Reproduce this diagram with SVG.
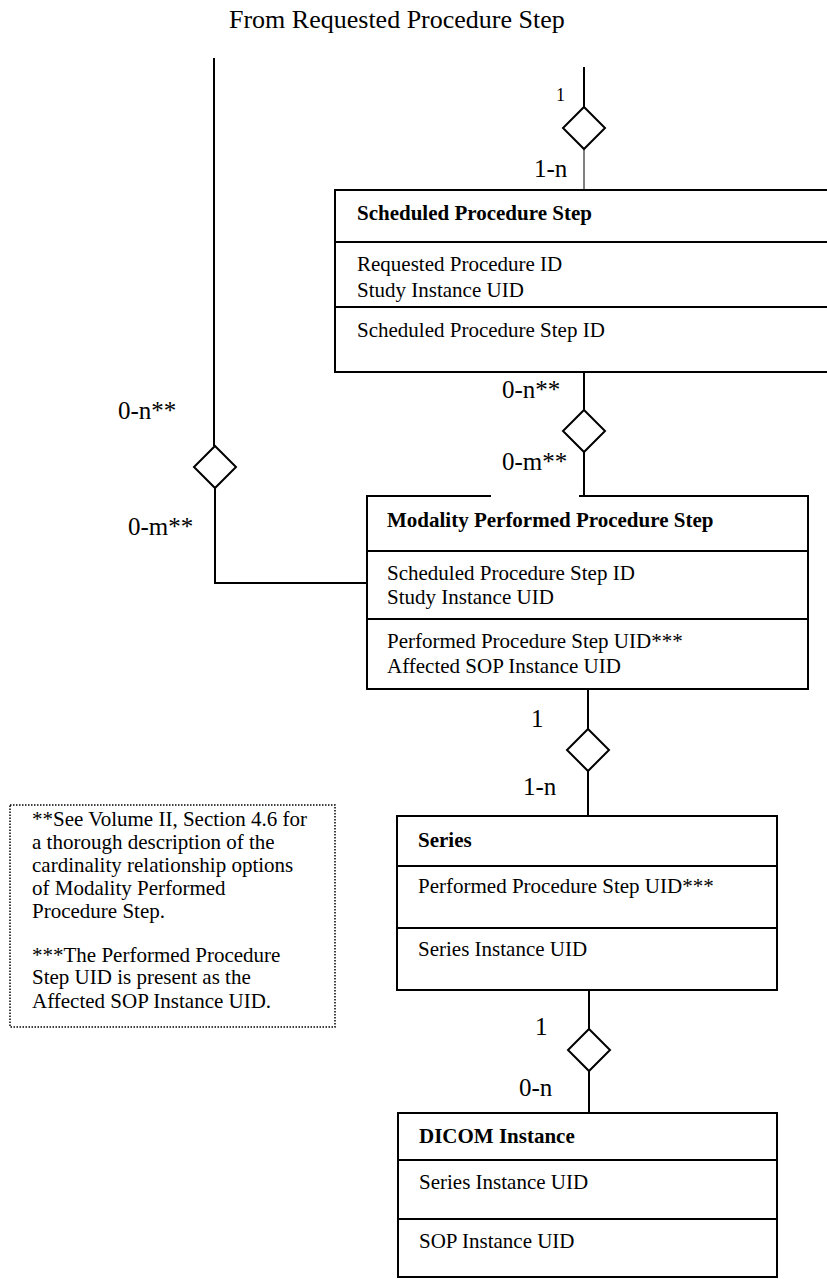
<svg xmlns="http://www.w3.org/2000/svg" width="827" height="1279" viewBox="0 0 827 1279">
<style>
text{font-family:"Liberation Serif","Times New Roman",serif;fill:#000}
.t{font-size:21px}
.b{font-size:21px;font-weight:bold}
.c{font-size:25px}
.box{fill:#fff;stroke:#000;stroke-width:2}
.ln{fill:none;stroke:#000;stroke-width:2}
.thin{fill:none;stroke:#000;stroke-width:1}
.dia{fill:#fff;stroke:#000;stroke-width:2}
</style>
<defs>
<path id="diamond" d="M0,-21 L21,0 L0,21 L-21,0 Z"/>
</defs>
<text x="229" y="28" style="font-size:26px">From Requested Procedure Step</text>

<g id="connectors">
  <g id="rps-sps">
    <line class="ln" x1="584" y1="67" x2="584" y2="107"/>
    <use href="#diamond" class="dia" x="584" y="128"/>
    <line class="thin" x1="584" y1="149" x2="584" y2="190"/>
    <text x="556" y="101" style="font-size:18px">1</text>
    <text class="c" x="534" y="177">1-n</text>
  </g>
  <g id="rps-mpps">
    <line class="ln" x1="214" y1="58" x2="214" y2="446"/>
    <use href="#diamond" class="dia" x="215" y="467"/>
    <polyline class="ln" points="215,488 215,583 367,583"/>
    <text class="c" x="118" y="419">0-n**</text>
    <text class="c" x="128" y="535">0-m**</text>
  </g>
  <g id="sps-mpps">
    <line class="ln" x1="584" y1="372" x2="584" y2="410"/>
    <use href="#diamond" class="dia" x="584" y="431"/>
    <line class="ln" x1="584" y1="452" x2="584" y2="496"/>
    <text class="c" x="502" y="398">0-n**</text>
    <text class="c" x="502" y="470">0-m**</text>
  </g>
  <g id="mpps-series">
    <line class="ln" x1="588" y1="689" x2="588" y2="729"/>
    <use href="#diamond" class="dia" x="588" y="750"/>
    <line class="ln" x1="588" y1="771" x2="588" y2="816"/>
    <text class="c" x="531" y="727">1</text>
    <text class="c" x="523" y="795">1-n</text>
  </g>
  <g id="series-dicom">
    <line class="ln" x1="589" y1="990" x2="589" y2="1029"/>
    <use href="#diamond" class="dia" x="589" y="1050"/>
    <line class="ln" x1="589" y1="1071" x2="589" y2="1113"/>
    <text class="c" x="535" y="1035">1</text>
    <text class="c" x="519" y="1096">0-n</text>
  </g>
</g>

<g id="sps">
  <path class="ln" d="M829,190 H335 V372 H829"/>
  <line class="ln" x1="335" y1="242" x2="829" y2="242"/>
  <line class="ln" x1="335" y1="307" x2="829" y2="307"/>
  <text class="b" x="357" y="220">Scheduled Procedure Step</text>
  <text class="t" x="357" y="271">Requested Procedure ID</text>
  <text class="t" x="357" y="297">Study Instance UID</text>
  <text class="t" x="357" y="337">Scheduled Procedure Step ID</text>
</g>

<g id="mpps">
  <rect x="367" y="496" width="441" height="193" style="fill:#fff;stroke:none"/>
  <path class="ln" d="M491,496 H367 V689 H808 V496 H579"/>
  <line class="ln" x1="367" y1="551" x2="808" y2="551"/>
  <line class="ln" x1="367" y1="619" x2="808" y2="619"/>
  <text class="b" x="387" y="527">Modality Performed Procedure Step</text>
  <text class="t" x="387" y="580">Scheduled Procedure Step ID</text>
  <text class="t" x="387" y="604">Study Instance UID</text>
  <text class="t" x="387" y="648">Performed Procedure Step UID***</text>
  <text class="t" x="387" y="673">Affected SOP Instance UID</text>
</g>

<g id="series">
  <rect class="box" x="397" y="816" width="380" height="174"/>
  <line class="ln" x1="397" y1="866" x2="777" y2="866"/>
  <line class="ln" x1="397" y1="928" x2="777" y2="928"/>
  <text class="b" x="418" y="847">Series</text>
  <text class="t" x="418" y="893">Performed Procedure Step UID***</text>
  <text class="t" x="418" y="956">Series Instance UID</text>
</g>

<g id="dicom">
  <rect class="box" x="398" y="1113" width="379" height="164"/>
  <line class="ln" x1="398" y1="1160" x2="777" y2="1160"/>
  <line class="ln" x1="398" y1="1219" x2="777" y2="1219"/>
  <text class="b" x="419" y="1143">DICOM Instance</text>
  <text class="t" x="419" y="1189">Series Instance UID</text>
  <text class="t" x="419" y="1248">SOP Instance UID</text>
</g>

<g id="note">
  <rect x="10" y="805" width="325" height="222" style="fill:#fff;stroke:#000;stroke-width:1.5;stroke-dasharray:1.5 1.5"/>
  <text class="t" x="32" y="826">**See Volume II, Section 4.6 for</text>
  <text class="t" x="32" y="849">a thorough description of the</text>
  <text class="t" x="32" y="872">cardinality relationship options</text>
  <text class="t" x="32" y="895">of Modality Performed</text>
  <text class="t" x="32" y="918">Procedure Step.</text>
  <text class="t" x="32" y="962">***The Performed Procedure</text>
  <text class="t" x="32" y="984">Step UID is present as the</text>
  <text class="t" x="32" y="1008">Affected SOP Instance UID.</text>
</g>
</svg>
